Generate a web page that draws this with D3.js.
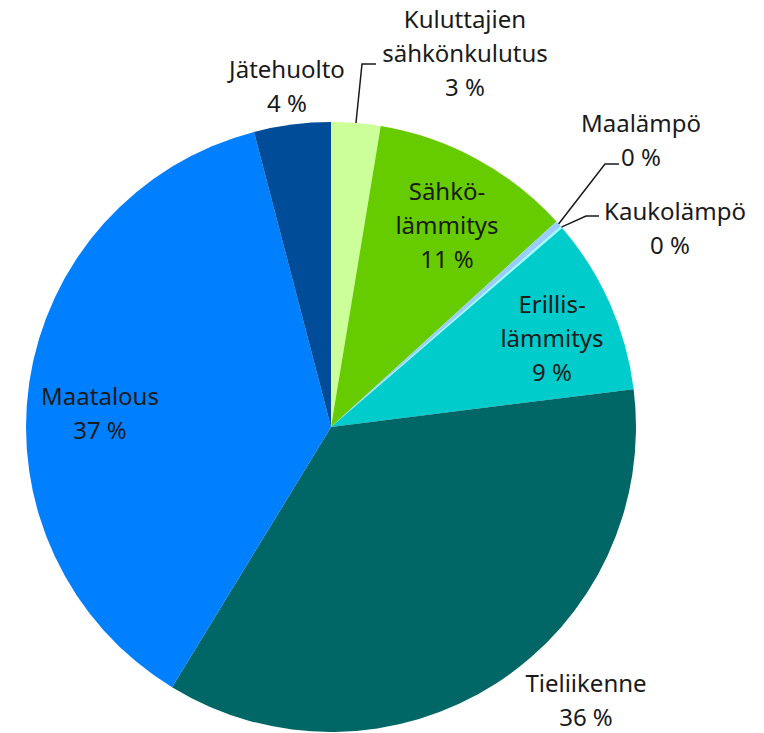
<!DOCTYPE html>
<html>

<head>
  <meta charset='utf-8'>
  <script type="text/javascript" src="https://cdn.jsdelivr.net/npm/d3@7"></script>
  <style type="text/css">
    body {
      margin: 0;
      background: #fff;
    }

    text {
      font-family: "Noto Sans", sans-serif;
      font-size: 24px;
      fill: #1a1a1a;
    }
  </style>
</head>

<body>
</body>

<script type="text/javascript">
  // slices, clockwise from 12 o'clock
  let names = ["Kuluttajien sähkönkulutus", "Sähkölämmitys", "Maalämpö", "Kaukolämpö",
    "Erillislämmitys", "Tieliikenne", "Maatalous", "Jätehuolto"]
  let values = [2.6, 10.6, 0.33, 0.12, 9.3, 35.6, 37.1, 4.05]
  let pctLabels = ["3 %", "11 %", "0 %", "0 %", "9 %", "36 %", "37 %", "4 %"]
  let colors = ["#ccff99", "#66cc00", "#99ccff", "#99ffff", "#00cccc", "#006666", "#0080ff", "#004c99"]

  let w = 764
  let h = 733
  let cx = 331, cy = 427, r = 305

  // label layout: text lines, anchor x, first baseline y, optional leader elbow
  let layout = [
    { lines: ["Kuluttajien", "sähkönkulutus"], x: 465, y: 28, elbow: [[362, 64], [376, 64]] },
    { lines: ["Sähkö-", "lämmitys"], x: 447, y: 200 },
    { lines: ["Maalämpö"], x: 641, y: 132, elbow: [[605, 164], [619, 164]] },
    { lines: ["Kaukolämpö"], x: 675, y: 220, pctX: 670, elbow: [[586, 216], [599, 216]] },
    { lines: ["Erillis-", "lämmitys"], x: 552, y: 313 },
    { lines: ["Tieliikenne"], x: 586, y: 692 },
    { lines: ["Maatalous"], x: 100, y: 405 },
    { lines: ["Jätehuolto"], x: 287, y: 78 }
  ]
  let lineH = 34

  let svg = d3.select("body")
    .append("svg")
    .attr("width", w)
    .attr("height", h)

  let pie = d3.pie().sort(null).value(d => d)
  let arcs = pie(values)
  let arc = d3.arc().innerRadius(0).outerRadius(r)

  let g = svg.append("g").attr("transform", `translate(${cx},${cy})`)
  g.selectAll("path")
    .data(arcs)
    .enter()
    .append("path")
    .attr("d", arc)
    .attr("fill", (d, i) => colors[i])

  // leader lines
  arcs.forEach((d, i) => {
    let l = layout[i]
    if (!l.elbow) return
    let a = (d.startAngle + d.endAngle) / 2
    let p0 = [cx + Math.sin(a) * r, cy - Math.cos(a) * r]
    let pts = [p0].concat(l.elbow)
    svg.append("path")
      .attr("d", d3.line()(pts))
      .attr("fill", "none")
      .attr("stroke", "#1a1a1a")
      .attr("stroke-width", 1.5)
  })

  // labels
  layout.forEach((l, i) => {
    let t = svg.append("text").attr("text-anchor", "middle")
    l.lines.concat([pctLabels[i]]).forEach((s, k) => {
      t.append("tspan")
        .attr("x", (k == l.lines.length && l.pctX) ? l.pctX : l.x)
        .attr("y", l.y + k * lineH)
        .text(s)
    })
  })
</script>

</html>
